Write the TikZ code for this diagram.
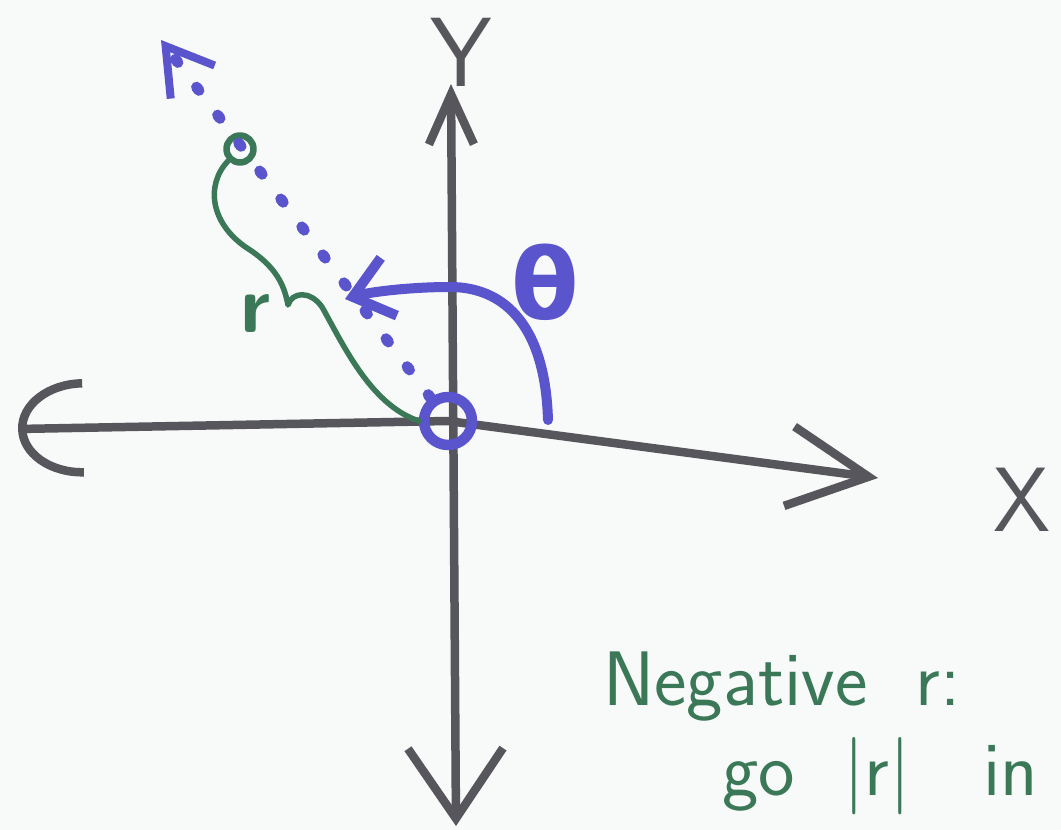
\documentclass[tikz,border=0pt]{standalone}
\usepackage{amsmath,amssymb,tikz}
\usepackage{fontspec}
\newfontfamily\greekfont{DejaVu Sans}
\usetikzlibrary{arrows.meta}
\definecolor{figK}{RGB}{86,86,92}
\definecolor{figB}{RGB}{90,84,205}
\definecolor{figG}{RGB}{58,120,88}
\definecolor{figP}{RGB}{247,250,248}

\begin{document}
\begin{tikzpicture}[x=0.02cm,y=-0.02cm,line cap=round,line join=round,
  axis/.style={figK,line width=0.17cm},
  ray/.style={figB,line width=0.22cm,dash pattern=on 0.08cm off 0.62cm},
  hand/.style={font=\sffamily\fontsize{44}{50}\selectfont,figG,inner sep=0pt}]
\fill[figP] (0,0) rectangle (1061,830); \useasboundingbox (0,0) rectangle (1061,830);
\coordinate (xl) at (18,429); \coordinate (xr) at (878,478);
\coordinate (yt) at (451,84); \coordinate (yb) at (456,826);
\coordinate (tip) at (161,40);
\node[circle,line width=0.2cm,minimum size=0.96cm,inner sep=0pt] (O) at (448,421) {};
\draw[axis,{Arc Barb[length=1.3cm,width=1.95cm,line width=0.17cm]}-{Straight Barb[length=1.6cm,width=1.6cm,line width=0.17cm]}] (xl)--(O.center)--(xr);
\draw[axis,{Straight Barb[length=1.0cm,width=0.9cm,line width=0.17cm]}-{Straight Barb[length=1.4cm,width=1.9cm,line width=0.17cm]}] (yt)--(yb);
\node[figK,font=\sffamily\fontsize{52}{56}\selectfont,inner sep=0pt] (xlab) at (1022,500) {X};
\node[figK,font=\sffamily\fontsize{56}{60}\selectfont,inner sep=0pt] (ylab) at (461,52) {Y};
\draw[figB,line width=0.21cm] (O.center) circle[radius=0.48cm];
\node[circle,draw=figG,line width=0.13cm,minimum size=0.54cm,inner sep=0pt] (P) at (240,149) {};
\draw[ray,-{Straight Barb[length=0.9cm,width=1.1cm,line width=0.16cm]}] (O)--(tip);
\draw[figG,line width=0.11cm] (P.south west) .. controls (205,185) and (210,225) .. (250,250) .. controls (280,270) and (285,290) .. (288,305) .. controls (292,292) and (310,290) .. (322,307) .. controls (342,342) and (370,405) .. (O.west);
\node[figG,font=\sffamily\bfseries\fontsize{46}{50}\selectfont,inner sep=0pt] (rlab) at (256,314) {r};
\draw[figB,line width=0.2cm,-{Straight Barb[length=0.75cm,width=1.2cm,line width=0.2cm]}] (548,420) .. controls (545,320) and (500,287) .. (450,287) .. controls (410,287) and (370,292) .. (345,299);
\node[figB,font=\greekfont\bfseries\fontsize{56}{60}\selectfont,inner sep=0pt] (tlab) at (545,282) {θ};
\node[hand,anchor=base west] (neg) at (603,705) {Negative \ r:};
\node[hand,anchor=base west] (go) at (722,795) {go \ |r| \ \ in};
\end{tikzpicture}
\end{document}
